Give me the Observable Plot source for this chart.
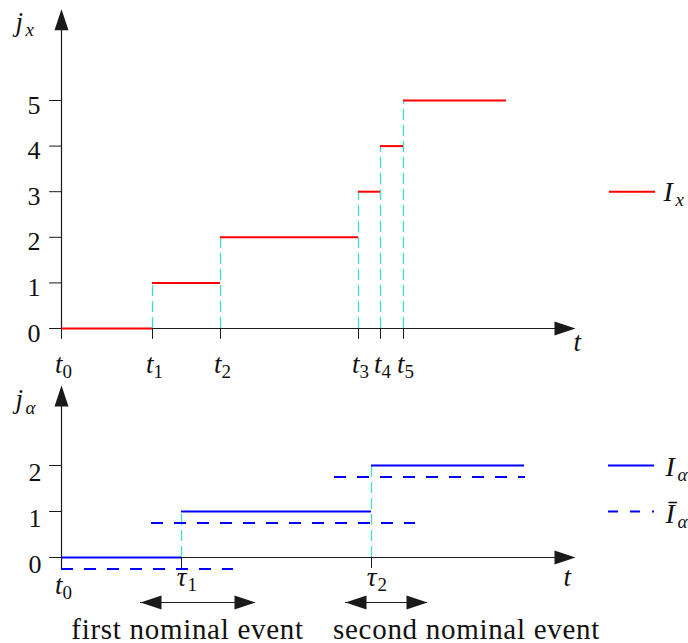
<!DOCTYPE html>
<html><head><meta charset="utf-8">
<script src="https://cdn.jsdelivr.net/npm/d3@7"></script>
<script src="https://cdn.jsdelivr.net/npm/@observablehq/plot@0.6"></script>
<style>
body{margin:0;background:#fff}
#chart svg{display:block}
#chart svg text{font-family:"Liberation Serif","DejaVu Serif",serif}
</style>
</head><body><div id="chart"></div><script>
// ---------- data ----------
// top panel: j_x counter, I_x step function
const tNames = ["0", "1", "2", "3", "4", "5"];
const tTimes = [0, 9.1, 15.9, 29.7, 31.9, 34.2];
const IxLevels = [0, 1, 2, 3, 4, 5];
const IxEnd = 44.5;
const jxTicks = [0, 1, 2, 3, 4, 5];
// bottom panel: j_alpha counter
const tauNames = ["1", "2"];
const tauTimes = [12.0, 31.0];
const IaLevels = [0, 1, 2];
const IaStarts = [0, 12.0, 31.0];
const IaEnds = [12.0, 31.0, 46.3];
const IaBarLevels = [-0.25, 0.75, 1.75];
const IaBarStarts = [0, 9.0, 27.3];
const IaBarEnds = [17.2, 35.4, 46.4];
const jaTicks = [0, 1, 2];
// nominal events
const eventNames = ["first nominal event", "second nominal event"];
const eventStarts = [7.9, 28.4];
const eventEnds = [19.4, 36.6];
const eventCenters = [12.6, 40.5];

// ---------- styling ----------
const FONT = "Liberation Serif, DejaVu Serif, serif";
const AX = "#1a1a1a";
const CYAN = "#3fded0";
const tAxisTip = 51.4;
const head = {draw(c, l, r) { c.moveTo(-r, 0); c.lineTo(0, -l); c.lineTo(r, 0); c.closePath(); }};
const stick = {draw(c, l) { c.moveTo(0, 0); c.lineTo(0, -l); }};
const arrowHead = (data, o) => Plot.vector(data, {length: 21, r: 7, shape: head, anchor: "end", fill: AX, stroke: "none", ...o});
const tickMark = (data, o) => Plot.vector(data, {shape: stick, anchor: "start", stroke: AX, strokeWidth: 1, ...o});
const txt = (data, o) => Plot.text(data, {fontFamily: FONT, lineAnchor: "bottom", fill: "#111", ...o});
const xScale = {domain: [0, 62.7], range: [61, 688], axis: null};

// ---------- top panel ----------
const topSteps = IxLevels.map((v, i) => ({t1: tTimes[i], t2: i + 1 < tTimes.length ? tTimes[i + 1] : IxEnd, v}));
const jxTop = 7.0;
const topPlot = Plot.plot({
  width: 688, height: 384, margin: 0,
  x: xScale,
  y: {domain: [0, 5], range: [328, 100], axis: null},
  marks: [
    Plot.ruleX(topSteps.slice(1), {x: "t1", y1: 0, y2: "v", stroke: CYAN, strokeWidth: 1.3, strokeDasharray: "11,5"}),
    Plot.ruleY([0], {x1: 0, x2: tAxisTip - 1, stroke: AX, strokeWidth: 1.2}),
    Plot.ruleX([0], {y1: 0, y2: jxTop - 0.2, stroke: AX, strokeWidth: 1.2}),
    arrowHead([0], {x: tAxisTip, y: 0, rotate: 90}),
    arrowHead([0], {x: 0, y: jxTop, rotate: 0}),
    tickMark(jxTicks, {x: 0, y: d => d, length: 12, rotate: 270}),
    tickMark(tTimes, {x: d => d, y: 0, length: 10, rotate: 180}),
    Plot.ruleY(topSteps, {y: "v", x1: "t1", x2: "t2", stroke: "#ff0000", strokeWidth: 2}),
    txt(jxTicks, {x: 0, y: d => d, text: d => String(d), textAnchor: "end", dx: -21, dy: 13, fontSize: 26}),
    txt(tTimes, {x: d => d, y: 0, text: () => "t", textAnchor: "end", dx: 1, dy: 44, fontSize: 27, fontStyle: "italic"}),
    txt(tTimes, {x: d => d, y: 0, text: (d, i) => tNames[i], textAnchor: "start", dx: 1, dy: 49, fontSize: 19}),
    txt([0], {x: tAxisTip, y: 0, text: () => "t", textAnchor: "start", dx: -2, dy: 22, fontSize: 27, fontStyle: "italic"}),
    txt([0], {x: 0, y: jxTop, text: () => "j", textAnchor: "start", dx: -46, dy: 22, fontSize: 27, fontStyle: "italic"}),
    txt([0], {x: 0, y: jxTop, text: () => "x", textAnchor: "start", dx: -36, dy: 27, fontSize: 19, fontStyle: "italic"}),
    // legend
    Plot.ruleY([3], {x1: 54.8, x2: 59.4, stroke: "#ff0000", strokeWidth: 2}),
    txt([3], {x: 60.2, y: d => d, text: () => "I", textAnchor: "start", dy: 9, fontSize: 28, fontStyle: "italic"}),
    txt([3], {x: 60.2, y: d => d, text: () => "x", textAnchor: "start", dx: 12, dy: 14, fontSize: 19, fontStyle: "italic"})
  ]
});

// ---------- bottom panel ----------
const IaSteps = IaLevels.map((v, i) => ({t1: IaStarts[i], t2: IaEnds[i], v}));
const IaBarSteps = IaBarLevels.map((v, i) => ({t1: IaBarStarts[i], t2: IaBarEnds[i], v}));
const events = eventNames.map((name, i) => ({name, a: eventStarts[i], b: eventEnds[i], c: eventCenters[i]}));
const jaTop = 3.74;
const botPlot = Plot.plot({
  width: 688, height: 259, margin: 0,
  x: xScale,
  y: {domain: [0, 2], range: [173, 81], axis: null},
  marks: [
    Plot.ruleX(IaSteps.slice(1), {x: "t1", y1: 0, y2: "v", stroke: CYAN, strokeWidth: 1.3, strokeDasharray: "11,5"}),
    Plot.ruleY([0], {x1: 0, x2: tAxisTip - 1, stroke: AX, strokeWidth: 1.2}),
    Plot.ruleX([0], {y1: -0.25, y2: jaTop - 0.2, stroke: AX, strokeWidth: 1.2}),
    arrowHead([0], {x: tAxisTip, y: 0, rotate: 90}),
    arrowHead([0], {x: 0, y: jaTop, rotate: 0}),
    tickMark(jaTicks, {x: 0, y: d => d, length: 12, rotate: 270}),
    tickMark(tauTimes, {x: d => d, y: 0, length: 10, rotate: 180}),
    Plot.ruleY(IaBarSteps, {y: "v", x1: "t1", x2: "t2", stroke: "#0000ff", strokeWidth: 2, strokeDasharray: "12,11"}),
    Plot.ruleY(IaSteps, {y: "v", x1: "t1", x2: "t2", stroke: "#0000ff", strokeWidth: 2}),
    txt(jaTicks, {x: 0, y: d => d, text: d => String(d), textAnchor: "end", dx: -20, dy: 15, fontSize: 26}),
    txt([0], {x: 0, y: 0, text: () => "t", textAnchor: "end", dx: 1, dy: 36, fontSize: 27, fontStyle: "italic"}),
    txt([0], {x: 0, y: 0, text: () => "0", textAnchor: "start", dx: 1, dy: 41, fontSize: 19}),
    txt(tauTimes, {x: d => d, y: 0, text: () => "τ", textAnchor: "middle", dy: 28, fontSize: 27, fontStyle: "italic"}),
    txt(tauTimes, {x: d => d, y: 0, text: (d, i) => tauNames[i], textAnchor: "start", dx: 6, dy: 33, fontSize: 19}),
    txt([0], {x: tAxisTip, y: 0, text: () => "t", textAnchor: "start", dx: -12, dy: 28, fontSize: 27, fontStyle: "italic"}),
    txt([0], {x: 0, y: jaTop, text: () => "j", textAnchor: "start", dx: -46, dy: 23, fontSize: 27, fontStyle: "italic"}),
    txt([0], {x: 0, y: jaTop, text: () => "α", textAnchor: "start", dx: -36, dy: 29, fontSize: 19, fontStyle: "italic"}),
    // event arrows
    Plot.ruleY(events, {y: 0, x1: "a", x2: "b", dy: 45, stroke: AX, strokeWidth: 1.2}),
    arrowHead(events, {x: "a", y: 0, dy: 45, rotate: 270}),
    arrowHead(events, {x: "b", y: 0, dy: 45, rotate: 90}),
    txt(events, {x: "c", y: 0, text: "name", dy: 81, fontSize: 29}),
    // legend
    Plot.ruleY([2], {x1: 54.7, x2: 59.3, stroke: "#0000ff", strokeWidth: 2}),
    Plot.ruleY([1], {x1: 54.7, x2: 59.3, stroke: "#0000ff", strokeWidth: 2, strokeDasharray: "10,12"}),
    txt([2], {x: 60.4, y: d => d, text: () => "I", textAnchor: "start", dy: 10, fontSize: 28, fontStyle: "italic"}),
    txt([2], {x: 60.4, y: d => d, text: () => "α", textAnchor: "start", dx: 12, dy: 15, fontSize: 19, fontStyle: "italic"}),
    txt([1], {x: 60.4, y: d => d, text: () => "Ī", textAnchor: "start", dy: 11, fontSize: 28, fontStyle: "italic"}),
    txt([1], {x: 60.4, y: d => d, text: () => "α", textAnchor: "start", dx: 12, dy: 16, fontSize: 19, fontStyle: "italic"})
  ]
});

// widen the event captions slightly, like the reference typesetting
d3.select(botPlot).selectAll("text")
  .filter(function () { return eventNames.includes(this.textContent); })
  .attr("letter-spacing", 0.7);

const root = document.getElementById("chart");
root.append(topPlot, botPlot);
</script></body></html>
